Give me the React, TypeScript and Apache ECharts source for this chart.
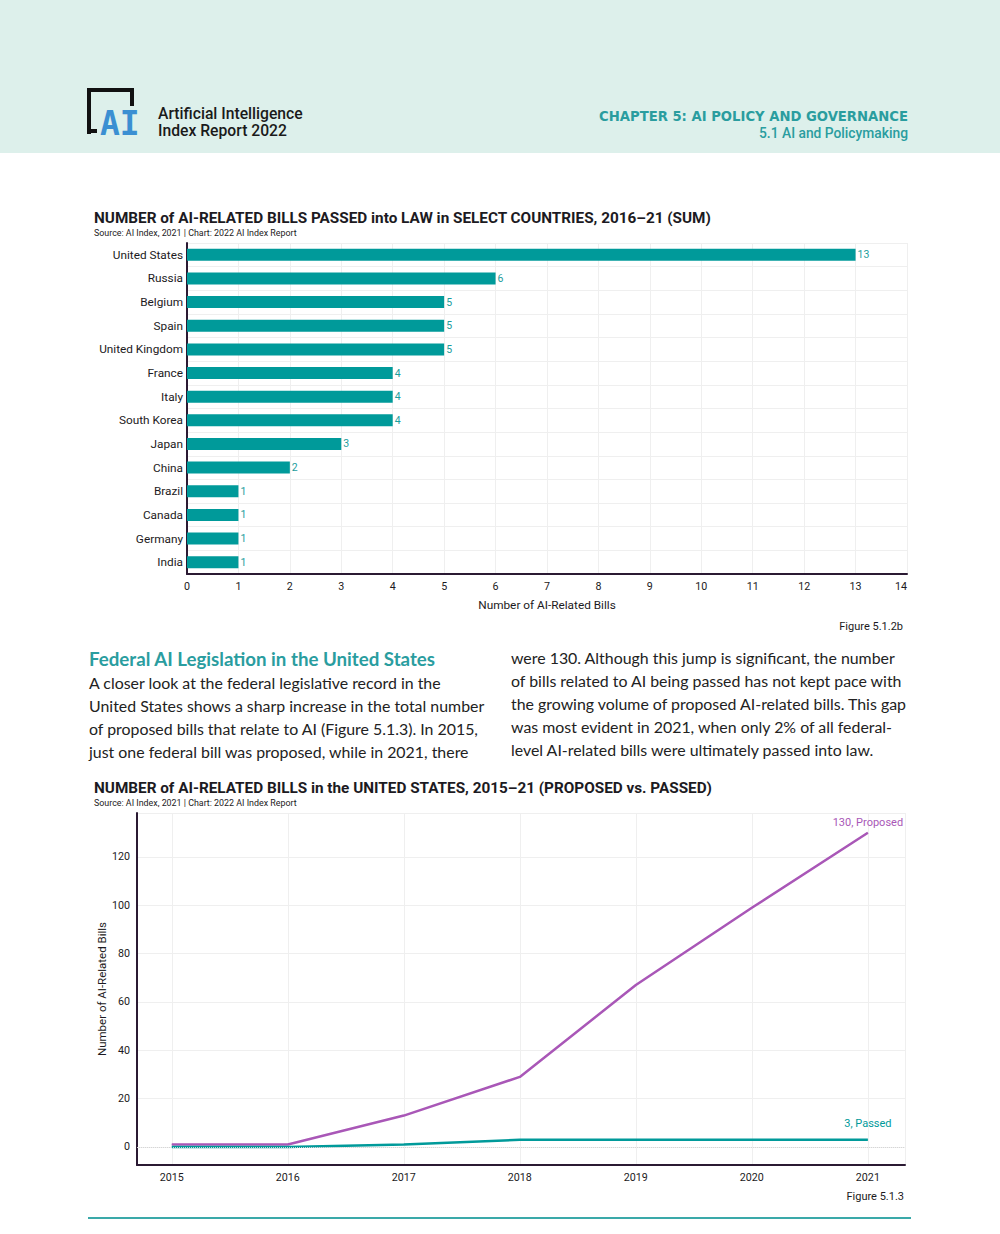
import React, { useEffect, useRef } from "react";
import * as echarts from "echarts";

const countries = [
  "United States", "Russia", "Belgium", "Spain", "United Kingdom", "France", "Italy",
  "South Korea", "Japan", "China", "Brazil", "Canada", "Germany", "India",
];
const billsPassed = [13, 6, 5, 5, 5, 4, 4, 4, 3, 2, 1, 1, 1, 1];

const years = [2015, 2016, 2017, 2018, 2019, 2020, 2021];
const proposedBills = [1, 1, 13, 29, 67, 99, 130];
const passedBills = [0, 0, 1, 3, 3, 3, 3];

const leftParagraph = [
  "A closer look at the federal legislative record in the",
  "United States shows a sharp increase in the total number",
  "of proposed bills that relate to AI (Figure 5.1.3). In 2015,",
  "just one federal bill was proposed, while in 2021, there",
];
const rightParagraph = [
  "were 130. Although this jump is significant, the number",
  "of bills related to AI being passed has not kept pace with",
  "the growing volume of proposed AI-related bills. This gap",
  "was most evident in 2021, when only 2% of all federal-",
  "level AI-related bills were ultimately passed into law.",
];

const TEAL = "#009a9a";
const PURPLE = "#a957b7";
const DARK = "#1c1a22";
const AXIS = "#2b1a33";
const GRID = "#efefef";
const CHART_FONT = "Roboto";
const BODY_FONT = "Lato";

function txt(x: number, y: number, text: string, o: any = {}) {
  return {
    type: "text",
    x,
    y,
    z: 10,
    style: {
      text,
      fill: o.fill || DARK,
      fontSize: o.size || 11,
      fontFamily: o.family || CHART_FONT,
      fontWeight: o.weight || "normal",
      align: o.align || "left",
      verticalAlign: "middle",
    },
  };
}

export default function App() {
  const ref = useRef<HTMLDivElement>(null);
  useEffect(() => {
    if (!ref.current) return;
    const chart = echarts.init(ref.current, null, { renderer: "svg" });

    const graphics: any[] = [
      { type: "rect", z: 0, shape: { x: 0, y: 0, width: 1000, height: 153 }, style: { fill: "#ddf0eb" } },
      { type: "rect", z: 5, shape: { x: 87, y: 88, width: 4, height: 46 }, style: { fill: "#111" } },
      { type: "rect", z: 5, shape: { x: 87, y: 88, width: 47, height: 4 }, style: { fill: "#111" } },
      { type: "rect", z: 5, shape: { x: 130, y: 88, width: 4, height: 18 }, style: { fill: "#111" } },
      { type: "rect", z: 5, shape: { x: 87, y: 129, width: 10, height: 4 }, style: { fill: "#111" } },
      txt(100, 123, "AI", { family: "DejaVu Sans Mono", weight: "bold", size: 33, fill: "#3b8fd2" }),
      txt(158, 113, "Artificial Intelligence", { size: 15.7, weight: 500, fill: "#1a1a1a" }),
      txt(158, 130, "Index Report 2022", { size: 15.7, weight: 500, fill: "#1a1a1a" }),
      txt(908, 116, "CHAPTER 5: AI POLICY AND GOVERNANCE", { family: "DejaVu Sans", size: 13.2, weight: "bold", fill: "#2a9d9f", align: "right" }),
      txt(908, 133, "5.1 AI and Policymaking", { size: 13.8, weight: 500, fill: "#2a9d9f", align: "right" }),

      txt(94, 218, "NUMBER of AI-RELATED BILLS PASSED into LAW in SELECT COUNTRIES, 2016–21 (SUM)", { size: 15.3, weight: "bold" }),
      txt(94, 233, "Source: AI Index, 2021 | Chart: 2022 AI Index Report", { size: 8.9 }),
      txt(903, 626, "Figure 5.1.2b", { size: 11, align: "right" }),

      txt(89, 659, "Federal AI Legislation in the United States", { family: BODY_FONT, size: 18.7, weight: "bold", fill: "#2a9d9f" }),
      ...leftParagraph.map((l, i) => txt(89, 682 + i * 23, l, { family: BODY_FONT, size: 15.9, fill: "#222" })),
      ...rightParagraph.map((l, i) => txt(511, 657 + i * 23, l, { family: BODY_FONT, size: 15.9, fill: "#222" })),

      txt(94, 788, "NUMBER of AI-RELATED BILLS in the UNITED STATES, 2015–21 (PROPOSED vs. PASSED)", { size: 15.3, weight: "bold" }),
      txt(94, 803, "Source: AI Index, 2021 | Chart: 2022 AI Index Report", { size: 8.9 }),
      txt(904, 1196, "Figure 5.1.3", { size: 11, align: "right" }),

      { type: "rect", z: 5, shape: { x: 88, y: 1217, width: 823, height: 2 }, style: { fill: "#3aa9a9" } },
    ];

    const lastLabel = (name: string, color: string, dist: number) => ({
      show: true,
      position: "top",
      distance: dist,
      color,
      fontSize: 11,
      fontFamily: CHART_FONT,
      formatter: (p: any) => `${p.value[1]}, ${name}`,
    });

    const proposedData = years.map((y, i) =>
      i === years.length - 1
        ? { value: [y, proposedBills[i]], label: lastLabel("Proposed", PURPLE, 5) }
        : { value: [y, proposedBills[i]] }
    );
    const passedData = years.map((y, i) =>
      i === years.length - 1
        ? { value: [y, passedBills[i]], label: lastLabel("Passed", TEAL, 10) }
        : { value: [y, passedBills[i]] }
    );

    chart.setOption({
      animation: false,
      backgroundColor: "#ffffff",
      textStyle: { fontFamily: CHART_FONT },
      graphic: graphics,
      grid: [
        { left: 187, top: 243, width: 720, height: 331 },
        { left: 137, top: 813, width: 768, height: 352 },
      ],
      xAxis: [
        {
          gridIndex: 0,
          type: "value",
          min: 0,
          max: 14,
          interval: 1,
          axisLine: { show: true, onZero: false, lineStyle: { color: AXIS, width: 2 } },
          axisTick: { show: false },
          splitLine: { show: true, lineStyle: { color: GRID } },
          axisLabel: { color: DARK, fontSize: 10.7, margin: 7, alignMaxLabel: "right" },
          name: "Number of AI-Related Bills",
          nameLocation: "middle",
          nameGap: 25,
          nameTextStyle: { color: DARK, fontSize: 11.8 },
        },
        {
          gridIndex: 1,
          type: "value",
          min: 2014.7,
          max: 2021.32,
          splitNumber: 7,
          axisLine: { show: true, onZero: false, lineStyle: { color: AXIS, width: 2 } },
          axisTick: { show: false },
          splitLine: { show: true, lineStyle: { color: GRID } },
          axisLabel: {
            color: DARK,
            fontSize: 10.7,
            margin: 7,
            showMinLabel: false,
            showMaxLabel: false,
            formatter: (v: number) => (Number.isInteger(v) ? String(v) : ""),
          },
        },
      ],
      yAxis: [
        {
          gridIndex: 0,
          type: "category",
          data: countries,
          inverse: true,
          axisLine: { show: true, onZero: false, lineStyle: { color: AXIS, width: 2 } },
          axisTick: { show: false },
          splitLine: { show: true, lineStyle: { color: GRID } },
          axisLabel: { color: DARK, fontSize: 11.8, margin: 4 },
        },
        {
          gridIndex: 1,
          type: "value",
          min: -7.45,
          max: 138.2,
          splitNumber: 7,
          axisLine: { show: true, onZero: false, lineStyle: { color: AXIS, width: 2 } },
          axisTick: { show: false },
          splitLine: { show: true, lineStyle: { color: GRID } },
          axisLabel: {
            color: DARK,
            fontSize: 10.7,
            margin: 7,
            showMinLabel: false,
            showMaxLabel: false,
            formatter: (v: number) => (v % 20 === 0 ? String(v) : ""),
          },
          name: "Number of AI-Related Bills",
          nameLocation: "middle",
          nameGap: 29,
          nameMoveOverlap: false,
          nameTextStyle: { color: DARK, fontSize: 11.5 },
        },
      ],
      series: [
        {
          type: "bar",
          xAxisIndex: 0,
          yAxisIndex: 0,
          data: billsPassed,
          barWidth: 12,
          itemStyle: { color: TEAL },
          label: { show: true, position: "right", distance: 2, color: "#1d9d9d", fontSize: 10.5 },
        },
        {
          type: "line",
          name: "Proposed",
          xAxisIndex: 1,
          yAxisIndex: 1,
          data: proposedData,
          symbol: "circle",
          symbolSize: 0.5,
          showSymbol: true,
          lineStyle: { color: PURPLE, width: 2.5 },
          itemStyle: { color: PURPLE },
          markLine: {
            silent: true,
            symbol: "none",
            label: { show: false },
            lineStyle: { color: "#d6d6d6", type: "dotted", width: 1, opacity: 1 },
            emphasis: { disabled: true },
            data: [{ yAxis: 0 }],
          },
        },
        {
          type: "line",
          name: "Passed",
          xAxisIndex: 1,
          yAxisIndex: 1,
          data: passedData,
          symbol: "circle",
          symbolSize: 0.5,
          showSymbol: true,
          lineStyle: { color: TEAL, width: 2.5 },
          itemStyle: { color: TEAL },
        },
      ],
    });
    return () => chart.dispose();
  }, []);

  return (
    <div
      ref={ref}
      style={{ position: "absolute", left: 0, top: 0, width: 1000, height: 1234 }}
    />
  );
}
